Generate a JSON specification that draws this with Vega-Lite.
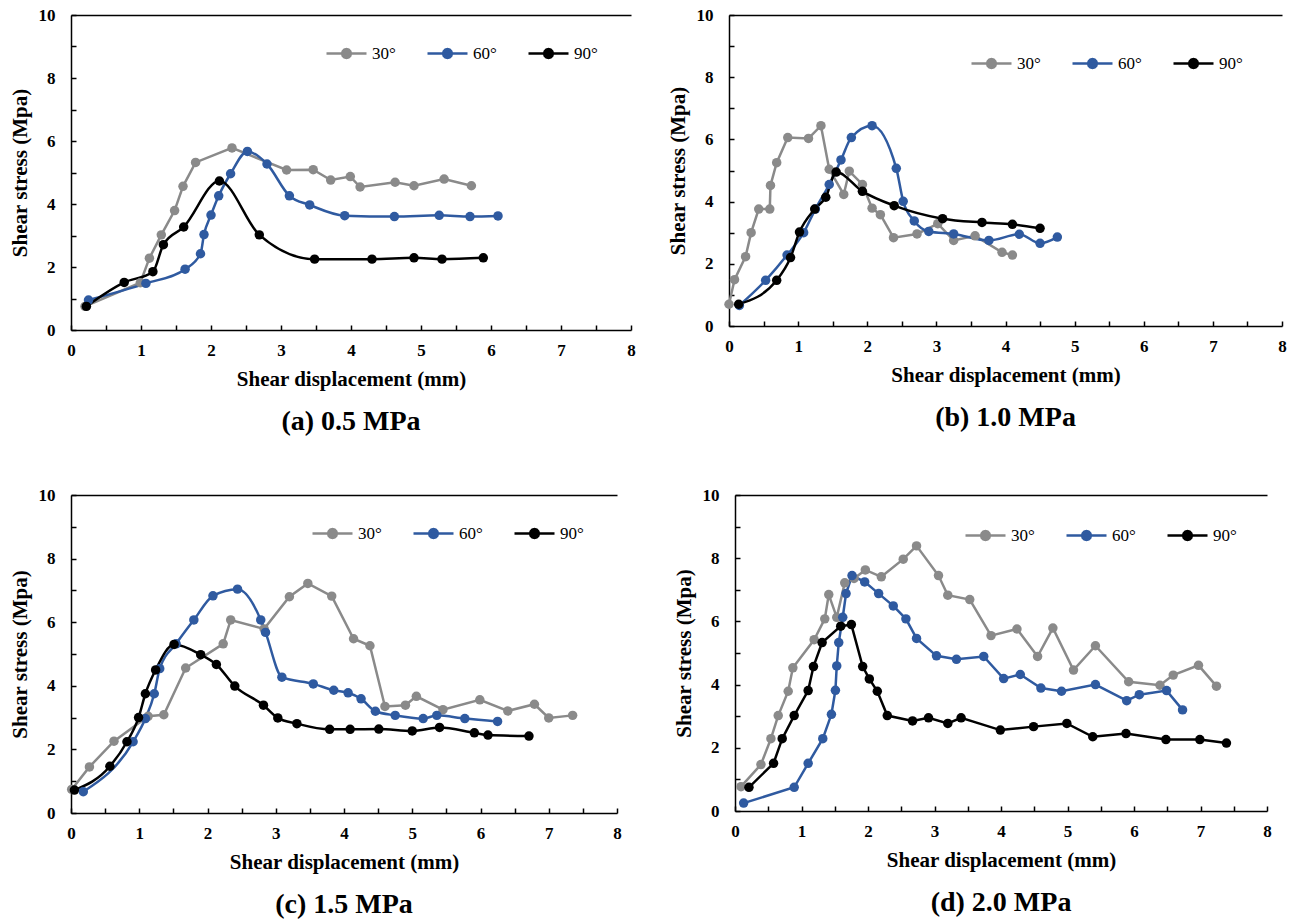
{
  "$schema": "https://vega.github.io/schema/vega-lite/v6.json",
  "background": "white",
  "padding": {"left": 9, "top": 6, "right": 2, "bottom": 0},
  "datasets": {
    "a": [
      {"disp":0.2,"stress":0.75,"angle":"30°"},{"disp":0.99,"stress":1.5,"angle":"30°"},{"disp":1.12,"stress":2.28,"angle":"30°"},{"disp":1.29,"stress":3.02,"angle":"30°"},{"disp":1.48,"stress":3.79,"angle":"30°"},{"disp":1.6,"stress":4.56,"angle":"30°"},{"disp":1.78,"stress":5.32,"angle":"30°"},{"disp":2.3,"stress":5.78,"angle":"30°"},{"disp":3.08,"stress":5.08,"angle":"30°"},{"disp":3.46,"stress":5.09,"angle":"30°"},{"disp":3.71,"stress":4.76,"angle":"30°"},{"disp":3.99,"stress":4.87,"angle":"30°"},{"disp":4.13,"stress":4.54,"angle":"30°"},{"disp":4.63,"stress":4.69,"angle":"30°"},{"disp":4.9,"stress":4.58,"angle":"30°"},{"disp":5.33,"stress":4.79,"angle":"30°"},{"disp":5.72,"stress":4.58,"angle":"30°"},
      {"disp":0.25,"stress":0.95,"angle":"60°"},{"disp":1.07,"stress":1.48,"angle":"60°"},{"disp":1.63,"stress":1.93,"angle":"60°"},{"disp":1.85,"stress":2.42,"angle":"60°"},{"disp":1.9,"stress":3.03,"angle":"60°"},{"disp":2.0,"stress":3.65,"angle":"60°"},{"disp":2.11,"stress":4.26,"angle":"60°"},{"disp":2.28,"stress":4.96,"angle":"60°"},{"disp":2.52,"stress":5.67,"angle":"60°"},{"disp":2.8,"stress":5.27,"angle":"60°"},{"disp":3.12,"stress":4.26,"angle":"60°"},{"disp":3.41,"stress":3.97,"angle":"60°"},{"disp":3.91,"stress":3.63,"angle":"60°"},{"disp":4.62,"stress":3.6,"angle":"60°"},{"disp":5.26,"stress":3.64,"angle":"60°"},{"disp":5.7,"stress":3.6,"angle":"60°"},{"disp":6.1,"stress":3.62,"angle":"60°"},
      {"disp":0.22,"stress":0.75,"angle":"90°"},{"disp":0.76,"stress":1.51,"angle":"90°"},{"disp":1.17,"stress":1.85,"angle":"90°"},{"disp":1.32,"stress":2.71,"angle":"90°"},{"disp":1.61,"stress":3.27,"angle":"90°"},{"disp":2.12,"stress":4.73,"angle":"90°"},{"disp":2.69,"stress":3.02,"angle":"90°"},{"disp":3.48,"stress":2.25,"angle":"90°"},{"disp":4.3,"stress":2.25,"angle":"90°"},{"disp":4.9,"stress":2.29,"angle":"90°"},{"disp":5.3,"stress":2.25,"angle":"90°"},{"disp":5.89,"stress":2.29,"angle":"90°"}
    ],
    "b": [
      {"disp":0,"stress":0.7,"angle":"30°"},{"disp":0.08,"stress":1.49,"angle":"30°"},{"disp":0.24,"stress":2.23,"angle":"30°"},{"disp":0.32,"stress":3.0,"angle":"30°"},{"disp":0.43,"stress":3.76,"angle":"30°"},{"disp":0.59,"stress":3.76,"angle":"30°"},{"disp":0.6,"stress":4.52,"angle":"30°"},{"disp":0.69,"stress":5.25,"angle":"30°"},{"disp":0.85,"stress":6.06,"angle":"30°"},{"disp":1.15,"stress":6.03,"angle":"30°"},{"disp":1.33,"stress":6.44,"angle":"30°"},{"disp":1.45,"stress":5.04,"angle":"30°"},{"disp":1.66,"stress":4.23,"angle":"30°"},{"disp":1.74,"stress":4.98,"angle":"30°"},{"disp":1.93,"stress":4.55,"angle":"30°"},{"disp":2.07,"stress":3.79,"angle":"30°"},{"disp":2.19,"stress":3.58,"angle":"30°"},{"disp":2.38,"stress":2.84,"angle":"30°"},{"disp":2.72,"stress":2.96,"angle":"30°"},{"disp":3.02,"stress":3.29,"angle":"30°"},{"disp":3.25,"stress":2.75,"angle":"30°"},{"disp":3.56,"stress":2.9,"angle":"30°"},{"disp":3.95,"stress":2.37,"angle":"30°"},{"disp":4.1,"stress":2.28,"angle":"30°"},
      {"disp":0.15,"stress":0.66,"angle":"60°"},{"disp":0.53,"stress":1.47,"angle":"60°"},{"disp":0.84,"stress":2.28,"angle":"60°"},{"disp":1.08,"stress":3.0,"angle":"60°"},{"disp":1.25,"stress":3.76,"angle":"60°"},{"disp":1.45,"stress":4.55,"angle":"60°"},{"disp":1.62,"stress":5.34,"angle":"60°"},{"disp":1.77,"stress":6.06,"angle":"60°"},{"disp":2.07,"stress":6.44,"angle":"60°"},{"disp":2.42,"stress":5.07,"angle":"60°"},{"disp":2.52,"stress":4.01,"angle":"60°"},{"disp":2.68,"stress":3.38,"angle":"60°"},{"disp":2.89,"stress":3.04,"angle":"60°"},{"disp":3.25,"stress":2.96,"angle":"60°"},{"disp":3.76,"stress":2.75,"angle":"60°"},{"disp":4.2,"stress":2.95,"angle":"60°"},{"disp":4.5,"stress":2.66,"angle":"60°"},{"disp":4.75,"stress":2.86,"angle":"60°"},
      {"disp":0.14,"stress":0.7,"angle":"90°"},{"disp":0.69,"stress":1.47,"angle":"90°"},{"disp":0.89,"stress":2.2,"angle":"90°"},{"disp":1.02,"stress":3.02,"angle":"90°"},{"disp":1.24,"stress":3.76,"angle":"90°"},{"disp":1.4,"stress":4.14,"angle":"90°"},{"disp":1.55,"stress":4.95,"angle":"90°"},{"disp":1.93,"stress":4.33,"angle":"90°"},{"disp":2.39,"stress":3.87,"angle":"90°"},{"disp":3.09,"stress":3.45,"angle":"90°"},{"disp":3.66,"stress":3.33,"angle":"90°"},{"disp":4.1,"stress":3.27,"angle":"90°"},{"disp":4.5,"stress":3.14,"angle":"90°"}
    ],
    "c": [
      {"disp":0.01,"stress":0.74,"angle":"30°"},{"disp":0.27,"stress":1.45,"angle":"30°"},{"disp":0.63,"stress":2.26,"angle":"30°"},{"disp":1.13,"stress":3.04,"angle":"30°"},{"disp":1.36,"stress":3.09,"angle":"30°"},{"disp":1.68,"stress":4.56,"angle":"30°"},{"disp":2.23,"stress":5.32,"angle":"30°"},{"disp":2.34,"stress":6.07,"angle":"30°"},{"disp":2.83,"stress":5.79,"angle":"30°"},{"disp":3.2,"stress":6.8,"angle":"30°"},{"disp":3.47,"stress":7.22,"angle":"30°"},{"disp":3.82,"stress":6.82,"angle":"30°"},{"disp":4.14,"stress":5.48,"angle":"30°"},{"disp":4.38,"stress":5.26,"angle":"30°"},{"disp":4.6,"stress":3.35,"angle":"30°"},{"disp":4.9,"stress":3.39,"angle":"30°"},{"disp":5.06,"stress":3.67,"angle":"30°"},{"disp":5.45,"stress":3.25,"angle":"30°"},{"disp":5.99,"stress":3.56,"angle":"30°"},{"disp":6.4,"stress":3.21,"angle":"30°"},{"disp":6.79,"stress":3.42,"angle":"30°"},{"disp":7.0,"stress":2.99,"angle":"30°"},{"disp":7.35,"stress":3.07,"angle":"30°"},
      {"disp":0.18,"stress":0.67,"angle":"60°"},{"disp":0.91,"stress":2.24,"angle":"60°"},{"disp":1.09,"stress":2.97,"angle":"60°"},{"disp":1.22,"stress":3.75,"angle":"60°"},{"disp":1.3,"stress":4.54,"angle":"60°"},{"disp":1.54,"stress":5.32,"angle":"60°"},{"disp":1.8,"stress":6.07,"angle":"60°"},{"disp":2.08,"stress":6.83,"angle":"60°"},{"disp":2.44,"stress":7.04,"angle":"60°"},{"disp":2.78,"stress":6.07,"angle":"60°"},{"disp":2.85,"stress":5.68,"angle":"60°"},{"disp":3.09,"stress":4.27,"angle":"60°"},{"disp":3.55,"stress":4.06,"angle":"60°"},{"disp":3.85,"stress":3.86,"angle":"60°"},{"disp":4.06,"stress":3.78,"angle":"60°"},{"disp":4.25,"stress":3.59,"angle":"60°"},{"disp":4.46,"stress":3.2,"angle":"60°"},{"disp":4.75,"stress":3.07,"angle":"60°"},{"disp":5.16,"stress":2.97,"angle":"60°"},{"disp":5.36,"stress":3.07,"angle":"60°"},{"disp":5.77,"stress":2.97,"angle":"60°"},{"disp":6.25,"stress":2.88,"angle":"60°"},
      {"disp":0.05,"stress":0.72,"angle":"90°"},{"disp":0.57,"stress":1.47,"angle":"90°"},{"disp":0.82,"stress":2.24,"angle":"90°"},{"disp":0.99,"stress":3.0,"angle":"90°"},{"disp":1.09,"stress":3.75,"angle":"90°"},{"disp":1.24,"stress":4.5,"angle":"90°"},{"disp":1.51,"stress":5.3,"angle":"90°"},{"disp":1.9,"stress":4.98,"angle":"90°"},{"disp":2.13,"stress":4.67,"angle":"90°"},{"disp":2.4,"stress":3.99,"angle":"90°"},{"disp":2.82,"stress":3.39,"angle":"90°"},{"disp":3.03,"stress":2.99,"angle":"90°"},{"disp":3.31,"stress":2.81,"angle":"90°"},{"disp":3.79,"stress":2.63,"angle":"90°"},{"disp":4.09,"stress":2.63,"angle":"90°"},{"disp":4.51,"stress":2.64,"angle":"90°"},{"disp":5.0,"stress":2.58,"angle":"90°"},{"disp":5.4,"stress":2.69,"angle":"90°"},{"disp":5.91,"stress":2.52,"angle":"90°"},{"disp":6.11,"stress":2.45,"angle":"90°"},{"disp":6.71,"stress":2.42,"angle":"90°"}
    ],
    "d": [
      {"disp":0.09,"stress":0.77,"angle":"30°"},{"disp":0.39,"stress":1.47,"angle":"30°"},{"disp":0.54,"stress":2.29,"angle":"30°"},{"disp":0.65,"stress":3.02,"angle":"30°"},{"disp":0.8,"stress":3.79,"angle":"30°"},{"disp":0.87,"stress":4.53,"angle":"30°"},{"disp":1.19,"stress":5.42,"angle":"30°"},{"disp":1.35,"stress":6.08,"angle":"30°"},{"disp":1.41,"stress":6.85,"angle":"30°"},{"disp":1.53,"stress":6.13,"angle":"30°"},{"disp":1.65,"stress":7.22,"angle":"30°"},{"disp":1.79,"stress":7.36,"angle":"30°"},{"disp":1.96,"stress":7.63,"angle":"30°"},{"disp":2.2,"stress":7.41,"angle":"30°"},{"disp":2.53,"stress":7.97,"angle":"30°"},{"disp":2.73,"stress":8.39,"angle":"30°"},{"disp":3.06,"stress":7.45,"angle":"30°"},{"disp":3.2,"stress":6.83,"angle":"30°"},{"disp":3.53,"stress":6.69,"angle":"30°"},{"disp":3.85,"stress":5.55,"angle":"30°"},{"disp":4.24,"stress":5.76,"angle":"30°"},{"disp":4.55,"stress":4.89,"angle":"30°"},{"disp":4.78,"stress":5.79,"angle":"30°"},{"disp":5.09,"stress":4.46,"angle":"30°"},{"disp":5.42,"stress":5.23,"angle":"30°"},{"disp":5.92,"stress":4.09,"angle":"30°"},{"disp":6.39,"stress":3.98,"angle":"30°"},{"disp":6.59,"stress":4.3,"angle":"30°"},{"disp":6.97,"stress":4.61,"angle":"30°"},{"disp":7.24,"stress":3.95,"angle":"30°"},
      {"disp":0.13,"stress":0.25,"angle":"60°"},{"disp":0.89,"stress":0.75,"angle":"60°"},{"disp":1.1,"stress":1.51,"angle":"60°"},{"disp":1.32,"stress":2.29,"angle":"60°"},{"disp":1.45,"stress":3.06,"angle":"60°"},{"disp":1.51,"stress":3.82,"angle":"60°"},{"disp":1.53,"stress":4.59,"angle":"60°"},{"disp":1.56,"stress":5.33,"angle":"60°"},{"disp":1.62,"stress":6.13,"angle":"60°"},{"disp":1.67,"stress":6.88,"angle":"60°"},{"disp":1.76,"stress":7.45,"angle":"60°"},{"disp":1.95,"stress":7.25,"angle":"60°"},{"disp":2.16,"stress":6.88,"angle":"60°"},{"disp":2.38,"stress":6.49,"angle":"60°"},{"disp":2.57,"stress":6.08,"angle":"60°"},{"disp":2.73,"stress":5.46,"angle":"60°"},{"disp":3.03,"stress":4.91,"angle":"60°"},{"disp":3.33,"stress":4.8,"angle":"60°"},{"disp":3.74,"stress":4.89,"angle":"60°"},{"disp":4.04,"stress":4.19,"angle":"60°"},{"disp":4.29,"stress":4.32,"angle":"60°"},{"disp":4.6,"stress":3.89,"angle":"60°"},{"disp":4.91,"stress":3.79,"angle":"60°"},{"disp":5.42,"stress":4.0,"angle":"60°"},{"disp":5.89,"stress":3.49,"angle":"60°"},{"disp":6.08,"stress":3.68,"angle":"60°"},{"disp":6.49,"stress":3.81,"angle":"60°"},{"disp":6.73,"stress":3.2,"angle":"60°"},
      {"disp":0.21,"stress":0.75,"angle":"90°"},{"disp":0.58,"stress":1.51,"angle":"90°"},{"disp":0.71,"stress":2.29,"angle":"90°"},{"disp":0.89,"stress":3.02,"angle":"90°"},{"disp":1.1,"stress":3.81,"angle":"90°"},{"disp":1.18,"stress":4.57,"angle":"90°"},{"disp":1.31,"stress":5.33,"angle":"90°"},{"disp":1.59,"stress":5.85,"angle":"90°"},{"disp":1.75,"stress":5.9,"angle":"90°"},{"disp":1.92,"stress":4.57,"angle":"90°"},{"disp":2.02,"stress":4.18,"angle":"90°"},{"disp":2.14,"stress":3.79,"angle":"90°"},{"disp":2.29,"stress":3.02,"angle":"90°"},{"disp":2.67,"stress":2.85,"angle":"90°"},{"disp":2.91,"stress":2.95,"angle":"90°"},{"disp":3.2,"stress":2.77,"angle":"90°"},{"disp":3.4,"stress":2.95,"angle":"90°"},{"disp":3.99,"stress":2.56,"angle":"90°"},{"disp":4.49,"stress":2.67,"angle":"90°"},{"disp":4.99,"stress":2.77,"angle":"90°"},{"disp":5.38,"stress":2.35,"angle":"90°"},{"disp":5.88,"stress":2.45,"angle":"90°"},{"disp":6.48,"stress":2.26,"angle":"90°"},{"disp":6.99,"stress":2.26,"angle":"90°"},{"disp":7.39,"stress":2.15,"angle":"90°"}
    ]
  },
  "resolve": {"scale": {"color": "independent"}, "legend": {"color": "independent"}},
  "spacing": 50,
  "vconcat": [
    {
      "resolve": {"scale": {"color": "independent"}, "legend": {"color": "independent"}},
      "spacing": 31,
      "hconcat": [
        {
          "width": 560, "height": 315,
          "data": {"name": "a"},
          "title": {"text": "(a) 0.5 MPa"},
          "encoding": {
            "x": {"field": "disp", "type": "quantitative", "scale": {"domain": [0, 8], "nice": false}, "axis": {"title": "Shear displacement (mm)", "values": [0,0.5,1,1.5,2,2.5,3,3.5,4,4.5,5,5.5,6,6.5,7,7.5,8], "labelExpr": "datum.value % 1 === 0 ? format(datum.value, 'd') : ''", "grid": false}},
            "y": {"field": "stress", "type": "quantitative", "scale": {"domain": [0, 10], "nice": false}, "axis": {"title": "Shear stress (Mpa)", "values": [0,1,2,3,4,5,6,7,8,9,10], "labelExpr": "datum.value % 2 === 0 ? format(datum.value, 'd') : ''", "grid": true, "gridColor": {"condition": {"test": "datum.value === 10", "value": "black"}, "value": "transparent"}, "gridWidth": 1.5}},
            "color": {"field": "angle", "type": "nominal", "scale": {"domain": ["30°", "60°", "90°"], "range": ["#8a8a8a", "#2f5aa0", "#000000"]}, "legend": {"title": null, "orient": "none", "legendX": 254, "legendY": 17, "direction": "horizontal", "symbolType": "M-1,0L1,0M0.22,0L0.1905,0.11L0.11,0.1905L0,0.22L-0.11,0.1905L-0.1905,0.11L-0.22,0L-0.1905,-0.11L-0.11,-0.1905L0,-0.22L0.11,-0.1905L0.1905,-0.11Z", "symbolSize": 1600, "symbolStrokeWidth": 2.5, "symbolOpacity": 1, "encode": {"symbols": {"update": {"fill": {"signal": "datum.value === '30°' ? '#8a8a8a' : datum.value === '60°' ? '#2f5aa0' : '#000000'"}, "stroke": {"signal": "datum.value === '30°' ? '#8a8a8a' : datum.value === '60°' ? '#2f5aa0' : '#000000'"}, "opacity": {"value": 1}}}}}}
          },
          "layer": [
            {"transform": [{"filter": "datum.angle === '30°'"}], "mark": {"type": "line", "strokeWidth": 2.5}},
            {"transform": [{"filter": "datum.angle !== '30°'"}], "mark": {"type": "line", "interpolate": "monotone", "strokeWidth": 2.5}},
            {"mark": {"type": "point", "filled": true, "size": 90, "opacity": 1}}
          ]
        },
        {
          "width": 553, "height": 311,
          "data": {"name": "b"},
          "title": {"text": "(b) 1.0 MPa"},
          "encoding": {
            "x": {"field": "disp", "type": "quantitative", "scale": {"domain": [0, 8], "nice": false}, "axis": {"title": "Shear displacement (mm)", "values": [0,0.5,1,1.5,2,2.5,3,3.5,4,4.5,5,5.5,6,6.5,7,7.5,8], "labelExpr": "datum.value % 1 === 0 ? format(datum.value, 'd') : ''", "grid": false}},
            "y": {"field": "stress", "type": "quantitative", "scale": {"domain": [0, 10], "nice": false}, "axis": {"title": "Shear stress (Mpa)", "values": [0,1,2,3,4,5,6,7,8,9,10], "labelExpr": "datum.value % 2 === 0 ? format(datum.value, 'd') : ''", "grid": true, "gridColor": {"condition": {"test": "datum.value === 10", "value": "black"}, "value": "transparent"}, "gridWidth": 1.5}},
            "color": {"field": "angle", "type": "nominal", "scale": {"domain": ["30°", "60°", "90°"], "range": ["#8a8a8a", "#2f5aa0", "#000000"]}, "legend": {"title": null, "orient": "none", "legendX": 241, "legendY": 27, "direction": "horizontal", "symbolType": "M-1,0L1,0M0.22,0L0.1905,0.11L0.11,0.1905L0,0.22L-0.11,0.1905L-0.1905,0.11L-0.22,0L-0.1905,-0.11L-0.11,-0.1905L0,-0.22L0.11,-0.1905L0.1905,-0.11Z", "symbolSize": 1600, "symbolStrokeWidth": 2.5, "symbolOpacity": 1, "encode": {"symbols": {"update": {"fill": {"signal": "datum.value === '30°' ? '#8a8a8a' : datum.value === '60°' ? '#2f5aa0' : '#000000'"}, "stroke": {"signal": "datum.value === '30°' ? '#8a8a8a' : datum.value === '60°' ? '#2f5aa0' : '#000000'"}, "opacity": {"value": 1}}}}}}
          },
          "layer": [
            {"transform": [{"filter": "datum.angle === '30°'"}], "mark": {"type": "line", "strokeWidth": 2.5}},
            {"transform": [{"filter": "datum.angle !== '30°'"}], "mark": {"type": "line", "interpolate": "monotone", "strokeWidth": 2.5}},
            {"mark": {"type": "point", "filled": true, "size": 90, "opacity": 1}}
          ]
        }
      ]
    },
    {
      "resolve": {"scale": {"color": "independent"}, "legend": {"color": "independent"}},
      "spacing": 51,
      "hconcat": [
        {
          "width": 546, "height": 318,
          "data": {"name": "c"},
          "title": {"text": "(c) 1.5 MPa"},
          "encoding": {
            "x": {"field": "disp", "type": "quantitative", "scale": {"domain": [0, 8], "nice": false}, "axis": {"title": "Shear displacement (mm)", "values": [0,0.5,1,1.5,2,2.5,3,3.5,4,4.5,5,5.5,6,6.5,7,7.5,8], "labelExpr": "datum.value % 1 === 0 ? format(datum.value, 'd') : ''", "grid": false}},
            "y": {"field": "stress", "type": "quantitative", "scale": {"domain": [0, 10], "nice": false}, "axis": {"title": "Shear stress (Mpa)", "values": [0,1,2,3,4,5,6,7,8,9,10], "labelExpr": "datum.value % 2 === 0 ? format(datum.value, 'd') : ''", "grid": true, "gridColor": {"condition": {"test": "datum.value === 10", "value": "black"}, "value": "transparent"}, "gridWidth": 1.5}},
            "color": {"field": "angle", "type": "nominal", "scale": {"domain": ["30°", "60°", "90°"], "range": ["#8a8a8a", "#2f5aa0", "#000000"]}, "legend": {"title": null, "orient": "none", "legendX": 240, "legendY": 17, "direction": "horizontal", "symbolType": "M-1,0L1,0M0.22,0L0.1905,0.11L0.11,0.1905L0,0.22L-0.11,0.1905L-0.1905,0.11L-0.22,0L-0.1905,-0.11L-0.11,-0.1905L0,-0.22L0.11,-0.1905L0.1905,-0.11Z", "symbolSize": 1600, "symbolStrokeWidth": 2.5, "symbolOpacity": 1, "encode": {"symbols": {"update": {"fill": {"signal": "datum.value === '30°' ? '#8a8a8a' : datum.value === '60°' ? '#2f5aa0' : '#000000'"}, "stroke": {"signal": "datum.value === '30°' ? '#8a8a8a' : datum.value === '60°' ? '#2f5aa0' : '#000000'"}, "opacity": {"value": 1}}}}}}
          },
          "layer": [
            {"transform": [{"filter": "datum.angle === '30°'"}], "mark": {"type": "line", "strokeWidth": 2.5}},
            {"transform": [{"filter": "datum.angle !== '30°'"}], "mark": {"type": "line", "interpolate": "monotone", "strokeWidth": 2.5}},
            {"mark": {"type": "point", "filled": true, "size": 90, "opacity": 1}}
          ]
        },
        {
          "width": 532, "height": 316,
          "data": {"name": "d"},
          "title": {"text": "(d) 2.0 MPa"},
          "encoding": {
            "x": {"field": "disp", "type": "quantitative", "scale": {"domain": [0, 8], "nice": false}, "axis": {"title": "Shear displacement (mm)", "values": [0,0.5,1,1.5,2,2.5,3,3.5,4,4.5,5,5.5,6,6.5,7,7.5,8], "labelExpr": "datum.value % 1 === 0 ? format(datum.value, 'd') : ''", "grid": false}},
            "y": {"field": "stress", "type": "quantitative", "scale": {"domain": [0, 10], "nice": false}, "axis": {"title": "Shear stress (Mpa)", "values": [0,1,2,3,4,5,6,7,8,9,10], "labelExpr": "datum.value % 2 === 0 ? format(datum.value, 'd') : ''", "grid": true, "gridColor": {"condition": {"test": "datum.value === 10", "value": "black"}, "value": "transparent"}, "gridWidth": 1.5}},
            "color": {"field": "angle", "type": "nominal", "scale": {"domain": ["30°", "60°", "90°"], "range": ["#8a8a8a", "#2f5aa0", "#000000"]}, "legend": {"title": null, "orient": "none", "legendX": 229, "legendY": 19, "direction": "horizontal", "symbolType": "M-1,0L1,0M0.22,0L0.1905,0.11L0.11,0.1905L0,0.22L-0.11,0.1905L-0.1905,0.11L-0.22,0L-0.1905,-0.11L-0.11,-0.1905L0,-0.22L0.11,-0.1905L0.1905,-0.11Z", "symbolSize": 1600, "symbolStrokeWidth": 2.5, "symbolOpacity": 1, "encode": {"symbols": {"update": {"fill": {"signal": "datum.value === '30°' ? '#8a8a8a' : datum.value === '60°' ? '#2f5aa0' : '#000000'"}, "stroke": {"signal": "datum.value === '30°' ? '#8a8a8a' : datum.value === '60°' ? '#2f5aa0' : '#000000'"}, "opacity": {"value": 1}}}}}}
          },
          "layer": [
            {"mark": {"type": "line", "strokeWidth": 2.5}},
            {"mark": {"type": "point", "filled": true, "size": 90, "opacity": 1}}
          ]
        }
      ]
    }
  ],
  "config": {
    "view": {"stroke": null},
    "font": "Liberation Serif",
    "axis": {
      "domainColor": "black", "domainWidth": 1.5,
      "tickColor": "black", "tickWidth": 1.5, "tickSize": -5,
      "labelFont": "Liberation Serif", "labelFontSize": 17, "labelFontWeight": "bold", "labelColor": "black",
      "titleFont": "Liberation Serif", "titleFontSize": 21, "titleFontWeight": "bold", "titleColor": "black"
    },
    "axisX": {"labelFlush": false, "labelPadding": 17, "titlePadding": 10, "grid": false},
    "axisY": {"labelFlush": false, "labelPadding": 21, "titlePadding": 8},
    "legend": {"labelFont": "Liberation Serif", "labelFontSize": 17, "labelColor": "black", "labelOffset": 4, "columnPadding": 26, "padding": 0},
    "title": {"orient": "bottom", "anchor": "middle", "font": "Liberation Serif", "fontSize": 28, "fontWeight": "bold", "color": "black", "offset": 19}
  }
}
